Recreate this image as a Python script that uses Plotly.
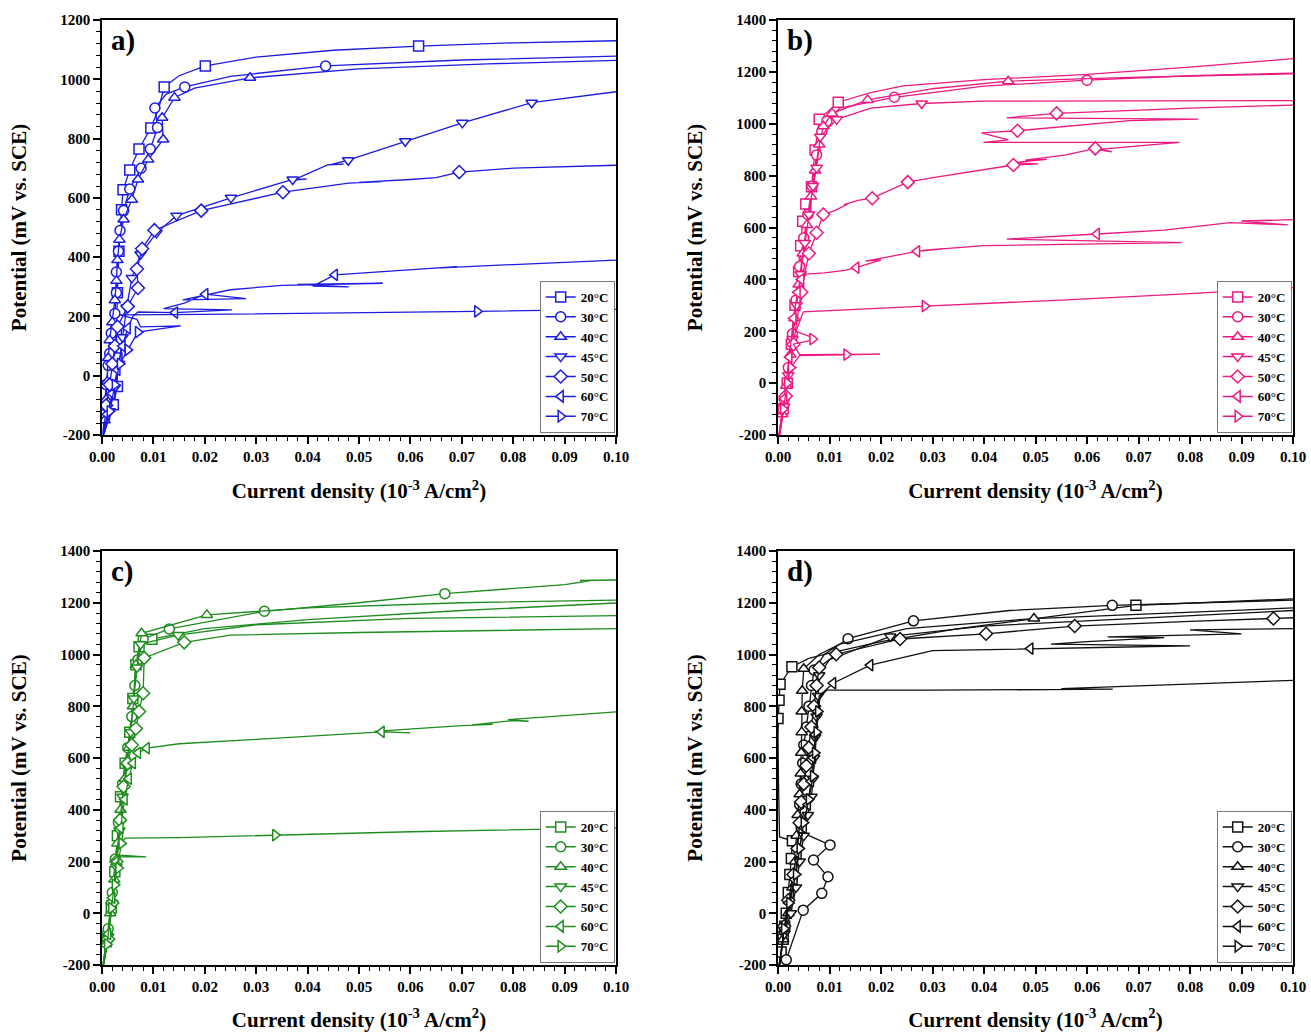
import plotly.graph_objects as go

# ---------------- DATA ----------------
TEMPS = ["20°C", "30°C", "40°C", "45°C", "50°C", "60°C", "70°C"]
SYMBOLS = ["square", "circle", "triangle-up", "triangle-down", "diamond", "triangle-left", "triangle-right"]
PANEL_LABELS = ["a)", "b)", "c)", "d)"]
PANEL_COLORS = ["#1c1ce0", "#ec1a80", "#1f8c1f", "#111111"]
Y_RANGES = [[-200, 1200], [-200, 1400], [-200, 1400], [-200, 1400]]
Y_TICKS_A = [-200, 0, 200, 400, 600, 800, 1000, 1200]
Y_TICKS = [-200, 0, 200, 400, 600, 800, 1000, 1200, 1400]
X_TICKS = [0.0, 0.01, 0.02, 0.03, 0.04, 0.05, 0.06, 0.07, 0.08, 0.09, 0.10]

# ----- panel a -----
A20_LX = [0.0003, 0.0012, 0.0022, 0.0030, 0.0029, 0.0028, 0.0030, 0.0033, 0.0038, 0.0041, 0.0054, 0.0072, 0.0095, 0.0110, 0.0121, 0.0150, 0.0201, 0.030, 0.045, 0.0616, 0.080, 0.100]
A20_LY = [-200, -150, -98, -36, 60, 150, 280, 420, 560, 627, 694, 765, 836, 900, 974, 1012, 1045, 1075, 1098, 1112, 1123, 1130]
A20_MX = [0.0022, 0.0030, 0.0029, 0.0028, 0.0030, 0.0033, 0.0038, 0.0041, 0.0054, 0.0072, 0.0095, 0.0121, 0.0201, 0.0616]
A20_MY = [-98, -36, 60, 150, 280, 420, 560, 627, 694, 765, 836, 974, 1045, 1112]

A30_LX = [0.0002, 0.0005, 0.0008, 0.0012, 0.0015, 0.0018, 0.0025, 0.0028, 0.0028, 0.0032, 0.0035, 0.0042, 0.0054, 0.0076, 0.0094, 0.0108, 0.0103, 0.0125, 0.0161, 0.025, 0.0435, 0.07, 0.1]
A30_LY = [-200, -100, -30, 35, 75, 143, 210, 280, 350, 420, 490, 557, 630, 700, 765, 837, 903, 950, 974, 1010, 1045, 1065, 1078]
A30_MX = [0.0005, 0.0008, 0.0012, 0.0015, 0.0018, 0.0025, 0.0028, 0.0028, 0.0032, 0.0035, 0.0042, 0.0054, 0.0076, 0.0094, 0.0108, 0.0103, 0.0161, 0.0435]
A30_MY = [-100, -30, 35, 75, 143, 210, 280, 350, 420, 490, 557, 630, 700, 765, 837, 903, 974, 1045]

A40_LX = [0.0002, 0.0005, 0.0008, 0.0010, 0.0012, 0.0015, 0.0020, 0.0025, 0.0028, 0.0030, 0.0034, 0.0042, 0.0058, 0.0070, 0.0090, 0.0119, 0.0117, 0.0141, 0.0180, 0.0288, 0.0500, 0.0750, 0.1000]
A40_LY = [-200, -150, -80, -20, 60, 120, 180, 255, 320, 390, 459, 527, 594, 662, 729, 797, 870, 938, 970, 1005, 1035, 1052, 1064]
A40_MX = [0.0005, 0.0008, 0.0010, 0.0012, 0.0015, 0.0020, 0.0025, 0.0028, 0.0030, 0.0034, 0.0042, 0.0058, 0.0070, 0.0090, 0.0119, 0.0117, 0.0141, 0.0288]
A40_MY = [-150, -80, -20, 60, 120, 180, 255, 320, 390, 459, 527, 594, 662, 729, 797, 870, 938, 1005]

A45_LX = [0.0005, 0.0015, 0.0025, 0.0033, 0.0040, 0.0048, 0.0058, 0.0075, 0.0106, 0.0145, 0.0251, 0.0371, 0.0398, 0.0372, 0.0440, 0.0470, 0.0443, 0.0479, 0.059, 0.0701, 0.0836, 0.1]
A45_LY = [-190, -120, -40, 40, 130, 230, 330, 410, 482, 540, 600, 662, 663, 660, 712, 714, 711, 727, 791, 853, 921, 958]
A45_MX = [0.0015, 0.0025, 0.0033, 0.0040, 0.0048, 0.0058, 0.0075, 0.0106, 0.0145, 0.0251, 0.0371, 0.0479, 0.059, 0.0701, 0.0836]
A45_MY = [-120, -40, 40, 130, 230, 330, 410, 482, 540, 600, 662, 727, 791, 853, 921]

A50_LX = [0.0003, 0.0008, 0.0015, 0.0020, 0.0025, 0.0030, 0.0050, 0.0070, 0.0068, 0.0078, 0.0102, 0.0193, 0.0352, 0.0480, 0.0545, 0.0500, 0.0600, 0.0650, 0.0695, 0.0800, 0.1000]
A50_LY = [-200, -100, -30, 40, 100, 165, 234, 296, 360, 428, 491, 557, 619, 650, 655, 652, 662, 668, 687, 700, 710]
A50_MX = [0.0008, 0.0015, 0.0020, 0.0025, 0.0030, 0.0050, 0.0070, 0.0068, 0.0078, 0.0102, 0.0193, 0.0352, 0.0695]
A50_MY = [-100, -30, 40, 100, 165, 234, 296, 360, 428, 491, 557, 619, 687]

A60_LX = [0.0003, 0.0010, 0.0020, 0.0030, 0.0040, 0.0050, 0.0060, 0.0070, 0.0142, 0.0253, 0.0120, 0.0160, 0.0201, 0.0280, 0.0157, 0.0250, 0.0350, 0.0546, 0.0380, 0.0480, 0.0410, 0.0453, 0.0650, 0.0690, 0.0660, 0.0800, 0.1000]
A60_LY = [-200, -130, -60, 20, 100, 160, 200, 215, 213, 222, 226, 245, 275, 260, 256, 290, 305, 312, 308, 300, 302, 340, 364, 368, 364, 375, 390]
A60_MX = [0.0010, 0.0020, 0.0030, 0.0040, 0.0050, 0.0142, 0.0201, 0.0453]
A60_MY = [-130, -60, 20, 100, 160, 213, 275, 340]

A70_LX = [0.0005, 0.0015, 0.0025, 0.0035, 0.0050, 0.0070, 0.0153, 0.0075, 0.0068, 0.0034, 0.0200, 0.0400, 0.0730, 0.1000]
A70_LY = [-190, -120, -31, 40, 87, 147, 168, 165, 190, 205, 207, 210, 217, 224]
A70_MX = [0.0015, 0.0025, 0.0035, 0.0050, 0.0070, 0.0730]
A70_MY = [-120, -31, 40, 87, 147, 217]

# ----- panel b -----
B20_LX = [0.0002, 0.0010, 0.0018, 0.0026, 0.0033, 0.0040, 0.0044, 0.0048, 0.0054, 0.0065, 0.0072, 0.0080, 0.0117, 0.0180, 0.0243, 0.0400, 0.0600, 0.0800, 0.1000]
B20_LY = [-200, -100, 0, 150, 300, 430, 530, 624, 691, 757, 899, 1017, 1083, 1120, 1146, 1170, 1190, 1218, 1251]
B20_MX = [0.0010, 0.0018, 0.0026, 0.0033, 0.0040, 0.0044, 0.0048, 0.0054, 0.0065, 0.0072, 0.0080, 0.0117]
B20_MY = [-100, 0, 150, 300, 430, 530, 624, 691, 757, 899, 1017, 1083]

B30_LX = [0.0002, 0.0012, 0.0020, 0.0028, 0.0035, 0.0042, 0.0050, 0.0058, 0.0066, 0.0075, 0.0085, 0.0095, 0.0120, 0.0226, 0.0400, 0.0600, 0.0800, 0.1000]
B30_LY = [-200, -60, 60, 190, 320, 450, 560, 650, 760, 880, 970, 1010, 1060, 1102, 1145, 1168, 1185, 1195]
B30_MX = [0.0012, 0.0020, 0.0028, 0.0035, 0.0042, 0.0050, 0.0058, 0.0066, 0.0075, 0.0085, 0.0095, 0.0226, 0.0600]
B30_MY = [-60, 60, 190, 320, 450, 560, 650, 760, 880, 970, 1010, 1102, 1168]

B40_LX = [0.0002, 0.0008, 0.0016, 0.0024, 0.0032, 0.0040, 0.0048, 0.0056, 0.0064, 0.0072, 0.0080, 0.0088, 0.0105, 0.0174, 0.0300, 0.0447, 0.0700, 0.1000]
B40_LY = [-200, -120, -10, 110, 250, 380, 500, 610, 720, 820, 920, 990, 1040, 1092, 1135, 1164, 1180, 1192]
B40_MX = [0.0008, 0.0016, 0.0024, 0.0032, 0.0040, 0.0048, 0.0056, 0.0064, 0.0072, 0.0080, 0.0088, 0.0105, 0.0174, 0.0447]
B40_MY = [-120, -10, 110, 250, 380, 500, 610, 720, 820, 920, 990, 1040, 1092, 1164]

B45_LX = [0.0003, 0.0012, 0.0020, 0.0028, 0.0036, 0.0044, 0.0052, 0.0060, 0.0068, 0.0075, 0.0082, 0.0114, 0.0180, 0.0279, 0.0400, 0.1000]
B45_LY = [-200, -90, 30, 170, 300, 420, 540, 650, 760, 830, 950, 1017, 1060, 1078, 1087, 1089]
B45_MX = [0.0012, 0.0020, 0.0028, 0.0036, 0.0044, 0.0052, 0.0060, 0.0068, 0.0075, 0.0082, 0.0114, 0.0279]
B45_MY = [-90, 30, 170, 300, 420, 540, 650, 760, 830, 950, 1017, 1078]

B50_LX = [0.0003, 0.0015, 0.0030, 0.0045, 0.0060, 0.0075, 0.0088, 0.0110, 0.0135, 0.0128, 0.0155, 0.0183, 0.0252, 0.0295, 0.0457, 0.0505, 0.0457, 0.0522, 0.0480, 0.0560, 0.0616, 0.0648, 0.0620, 0.0700, 0.0780, 0.0399, 0.0447, 0.0395, 0.0465, 0.0683, 0.0816, 0.0444, 0.0541, 0.0800, 0.1000]
B50_LY = [-200, -50, 150, 350, 500, 580, 650, 665, 690, 688, 705, 713, 775, 790, 841, 845, 850, 863, 860, 880, 905, 892, 900, 915, 928, 928, 938, 965, 973, 1012, 1018, 1023, 1040, 1060, 1072]
B50_MX = [0.0015, 0.0030, 0.0045, 0.0060, 0.0075, 0.0088, 0.0183, 0.0252, 0.0457, 0.0616, 0.0465, 0.0541]
B50_MY = [-50, 150, 350, 500, 580, 650, 713, 775, 841, 905, 973, 1040]

B60_LX = [0.0003, 0.0012, 0.0022, 0.0030, 0.0038, 0.0045, 0.0055, 0.0090, 0.0130, 0.0152, 0.0200, 0.0170, 0.0250, 0.0270, 0.0320, 0.0280, 0.0400, 0.0784, 0.0444, 0.0619, 0.0750, 0.0878, 0.0990, 0.0900, 0.1000]
B60_LY = [-200, -60, 100, 250, 350, 400, 420, 425, 435, 445, 475, 470, 500, 508, 518, 512, 530, 542, 555, 575, 590, 619, 610, 625, 630]
B60_MX = [0.0012, 0.0022, 0.0030, 0.0038, 0.0045, 0.0152, 0.0270, 0.0619]
B60_MY = [-60, 100, 250, 350, 400, 445, 508, 575]

B70_LX = [0.0003, 0.0010, 0.0018, 0.0025, 0.0043, 0.0198, 0.0043, 0.0030, 0.0075, 0.0035, 0.0049, 0.0285, 0.0520, 0.0550, 0.0800, 0.1000]
B70_LY = [-200, -100, 0, 60, 110, 112, 106, 150, 170, 200, 275, 297, 315, 320, 345, 368]
B70_MX = [0.0010, 0.0018, 0.0025, 0.0133, 0.0067, 0.0285]
B70_MY = [-100, 0, 60, 110, 170, 297]

# ----- panel c -----
C20_LX = [0.0002, 0.0010, 0.0018, 0.0025, 0.0030, 0.0036, 0.0045, 0.0054, 0.0060, 0.0066, 0.0072, 0.0097, 0.0200, 0.0400, 0.0700, 0.1000]
C20_LY = [-200, -90, 20, 160, 300, 450, 580, 700, 830, 960, 1030, 1059, 1100, 1135, 1170, 1199]
C20_MX = [0.0010, 0.0018, 0.0025, 0.0030, 0.0036, 0.0045, 0.0054, 0.0060, 0.0066, 0.0072, 0.0097]
C20_MY = [-90, 20, 160, 300, 450, 580, 700, 830, 960, 1030, 1059]

C30_LX = [0.0002, 0.0012, 0.0020, 0.0026, 0.0032, 0.0040, 0.0050, 0.0058, 0.0064, 0.0070, 0.0080, 0.0131, 0.0316, 0.0500, 0.0667, 0.0900, 0.0950, 0.0930, 0.1000]
C30_LY = [-200, -60, 80, 210, 350, 500, 640, 760, 880, 980, 1060, 1099, 1167, 1200, 1235, 1270, 1285, 1286, 1288]
C30_MX = [0.0012, 0.0020, 0.0026, 0.0032, 0.0040, 0.0050, 0.0058, 0.0064, 0.0070, 0.0080, 0.0131, 0.0316, 0.0667]
C30_MY = [-60, 80, 210, 350, 500, 640, 760, 880, 980, 1060, 1099, 1167, 1235]

C40_LX = [0.0002, 0.0008, 0.0016, 0.0024, 0.0030, 0.0036, 0.0044, 0.0052, 0.0060, 0.0066, 0.0077, 0.0204, 0.0400, 0.0700, 0.1000]
C40_LY = [-200, -120, 0, 130, 270, 400, 520, 640, 800, 960, 1082, 1153, 1180, 1200, 1210]
C40_MX = [0.0008, 0.0016, 0.0024, 0.0030, 0.0036, 0.0044, 0.0052, 0.0060, 0.0066, 0.0077, 0.0204]
C40_MY = [-120, 0, 130, 270, 400, 520, 640, 800, 960, 1082, 1153]

C45_LX = [0.0003, 0.0012, 0.0020, 0.0028, 0.0034, 0.0040, 0.0048, 0.0056, 0.0062, 0.0068, 0.0075, 0.0148, 0.0300, 0.0600, 0.1000]
C45_LY = [-200, -90, 40, 180, 320, 450, 570, 700, 830, 950, 1040, 1075, 1115, 1140, 1150]
C45_MX = [0.0012, 0.0020, 0.0028, 0.0034, 0.0040, 0.0048, 0.0056, 0.0062, 0.0068, 0.0075, 0.0148]
C45_MY = [-90, 40, 180, 320, 450, 570, 700, 830, 950, 1040, 1075]

C50_LX = [0.0003, 0.0012, 0.0020, 0.0028, 0.0035, 0.0042, 0.0050, 0.0058, 0.0066, 0.0072, 0.0080, 0.0082, 0.0160, 0.0250, 0.0500, 0.1000]
C50_LY = [-200, -100, 40, 200, 360, 490, 580, 650, 714, 780, 850, 987, 1047, 1075, 1085, 1100]
C50_MX = [0.0012, 0.0020, 0.0028, 0.0035, 0.0042, 0.0050, 0.0058, 0.0066, 0.0072, 0.0080, 0.0082, 0.0160]
C50_MY = [-100, 40, 200, 360, 490, 580, 650, 714, 780, 850, 987, 1047]

C60_LX = [0.0003, 0.0012, 0.0020, 0.0028, 0.0036, 0.0044, 0.0052, 0.0060, 0.0070, 0.0087, 0.0150, 0.0300, 0.0544, 0.0600, 0.0530, 0.0700, 0.0760, 0.0720, 0.0800, 0.0830, 0.0790, 0.1000]
C60_LY = [-200, -80, 60, 200, 330, 440, 520, 580, 620, 638, 655, 672, 701, 697, 703, 725, 730, 728, 745, 742, 748, 778]
C60_MX = [0.0012, 0.0020, 0.0028, 0.0036, 0.0044, 0.0052, 0.0060, 0.0070, 0.0087, 0.0544]
C60_MY = [-80, 60, 200, 330, 440, 520, 580, 620, 638, 701]

C70_LX = [0.0003, 0.0010, 0.0018, 0.0025, 0.0032, 0.0086, 0.0034, 0.0038, 0.0045, 0.0150, 0.0337, 0.0600, 0.1000]
C70_LY = [-200, -120, 20, 110, 218, 218, 225, 270, 290, 292, 302, 315, 330]
C70_MX = [0.0010, 0.0018, 0.0025, 0.0032, 0.0038, 0.0337]
C70_MY = [-120, 20, 110, 175, 270, 302]

# ----- panel d -----
D20_LX = [0.0002, 0.0006, 0.0010, 0.0013, 0.0016, 0.0020, 0.0023, 0.0026, 0.0028, 0.0003, 0.0001, 0.0000, 0.0002, 0.0004, 0.0027, 0.0060, 0.0100, 0.0200, 0.0350, 0.0695, 0.1000]
D20_LY = [-200, -150, -100, -50, 0, 80, 150, 212, 280, 295, 500, 690, 823, 885, 953, 985, 1005, 1050, 1100, 1190, 1215]
D20_MX = [0.0006, 0.0010, 0.0013, 0.0016, 0.0020, 0.0023, 0.0026, 0.0028, 0.0000, 0.0002, 0.0004, 0.0027, 0.0695]
D20_MY = [-150, -100, -50, 0, 80, 150, 212, 280, 753, 823, 885, 953, 1190]

D30_LX = [0.0016, 0.0030, 0.0049, 0.0085, 0.0097, 0.0069, 0.0101, 0.0060, 0.0045, 0.0042, 0.0045, 0.0048, 0.0050, 0.0055, 0.0060, 0.0065, 0.0070, 0.0090, 0.0136, 0.0263, 0.0450, 0.0649, 0.1000]
D30_LY = [-180, -100, 12, 77, 141, 206, 264, 300, 330, 420, 500, 580, 650, 720, 800, 880, 940, 1000, 1061, 1130, 1170, 1190, 1210]
D30_MX = [0.0016, 0.0049, 0.0085, 0.0097, 0.0069, 0.0101, 0.0045, 0.0042, 0.0045, 0.0048, 0.0050, 0.0055, 0.0060, 0.0065, 0.0070, 0.0136, 0.0263, 0.0649]
D30_MY = [-180, 12, 77, 141, 206, 264, 330, 420, 500, 580, 650, 720, 800, 880, 940, 1061, 1130, 1190]

D40_LX = [0.0002, 0.0010, 0.0020, 0.0028, 0.0033, 0.0036, 0.0038, 0.0042, 0.0044, 0.0045, 0.0046, 0.0046, 0.0047, 0.0050, 0.0080, 0.0120, 0.0250, 0.0497, 0.0750, 0.1000]
D40_LY = [-200, -100, 0, 100, 200, 300, 380, 460, 540, 620, 700, 780, 860, 945, 1000, 1040, 1100, 1139, 1160, 1180]
D40_MX = [0.0010, 0.0020, 0.0028, 0.0033, 0.0036, 0.0038, 0.0042, 0.0044, 0.0045, 0.0046, 0.0046, 0.0047, 0.0050, 0.0497]
D40_MY = [-100, 0, 100, 200, 300, 380, 460, 540, 620, 700, 780, 860, 945, 1139]

D45_LX = [0.0003, 0.0012, 0.0025, 0.0035, 0.0042, 0.0050, 0.0058, 0.0065, 0.0068, 0.0070, 0.0072, 0.0075, 0.0078, 0.0080, 0.0100, 0.0218, 0.0400, 0.0700, 0.1000]
D45_LY = [-200, -80, 0, 100, 200, 300, 380, 450, 520, 600, 680, 760, 840, 920, 980, 1070, 1110, 1140, 1170]
D45_MX = [0.0012, 0.0025, 0.0035, 0.0042, 0.0050, 0.0058, 0.0065, 0.0068, 0.0070, 0.0072, 0.0075, 0.0078, 0.0080, 0.0218]
D45_MY = [-80, 0, 100, 200, 300, 380, 450, 520, 600, 680, 760, 840, 920, 1070]

D50_LX = [0.0003, 0.0012, 0.0020, 0.0030, 0.0038, 0.0042, 0.0045, 0.0050, 0.0055, 0.0060, 0.0065, 0.0070, 0.0075, 0.0080, 0.0113, 0.0237, 0.0404, 0.0576, 0.0800, 0.0962, 0.1000]
D50_LY = [-200, -50, 50, 150, 250, 350, 430, 500, 570, 640, 720, 800, 880, 950, 1001, 1060, 1080, 1110, 1128, 1139, 1142]
D50_MX = [0.0012, 0.0020, 0.0030, 0.0038, 0.0042, 0.0045, 0.0050, 0.0055, 0.0060, 0.0065, 0.0070, 0.0075, 0.0080, 0.0113, 0.0237, 0.0404, 0.0576, 0.0962]
D50_MY = [-50, 50, 150, 250, 350, 430, 500, 570, 640, 720, 800, 880, 950, 1001, 1060, 1080, 1110, 1139]

D60_LX = [0.0003, 0.0012, 0.0020, 0.0032, 0.0040, 0.0050, 0.0058, 0.0064, 0.0068, 0.0072, 0.0076, 0.0080, 0.0107, 0.0179, 0.0300, 0.0490, 0.0650, 0.0800, 0.0530, 0.0600, 0.0750, 0.0640, 0.0900, 0.0800, 0.1000]
D60_LY = [-200, -60, 40, 130, 230, 330, 420, 510, 600, 690, 780, 840, 889, 959, 1015, 1023, 1028, 1033, 1040, 1050, 1065, 1068, 1080, 1095, 1100]
D60_MX = [0.0012, 0.0020, 0.0032, 0.0040, 0.0050, 0.0058, 0.0064, 0.0068, 0.0072, 0.0076, 0.0107, 0.0179, 0.0490]
D60_MY = [-60, 40, 130, 230, 330, 420, 510, 600, 690, 780, 889, 959, 1023]

D70_LX = [0.0003, 0.0012, 0.0022, 0.0035, 0.0042, 0.0050, 0.0060, 0.0068, 0.0072, 0.0075, 0.0078, 0.0082, 0.0095, 0.0300, 0.0550, 0.0650, 0.0550, 0.0800, 0.1000]
D70_LY = [-200, -60, 40, 150, 250, 350, 440, 530, 620, 700, 780, 840, 862, 862, 865, 866, 868, 885, 900]
D70_MX = [0.0012, 0.0022, 0.0035, 0.0042, 0.0050, 0.0060, 0.0068, 0.0072, 0.0075, 0.0078]
D70_MY = [-60, 40, 150, 250, 350, 440, 530, 620, 700, 780]

PANELS = [
    [(A20_LX, A20_LY, A20_MX, A20_MY), (A30_LX, A30_LY, A30_MX, A30_MY), (A40_LX, A40_LY, A40_MX, A40_MY),
     (A45_LX, A45_LY, A45_MX, A45_MY), (A50_LX, A50_LY, A50_MX, A50_MY), (A60_LX, A60_LY, A60_MX, A60_MY),
     (A70_LX, A70_LY, A70_MX, A70_MY)],
    [(B20_LX, B20_LY, B20_MX, B20_MY), (B30_LX, B30_LY, B30_MX, B30_MY), (B40_LX, B40_LY, B40_MX, B40_MY),
     (B45_LX, B45_LY, B45_MX, B45_MY), (B50_LX, B50_LY, B50_MX, B50_MY), (B60_LX, B60_LY, B60_MX, B60_MY),
     (B70_LX, B70_LY, B70_MX, B70_MY)],
    [(C20_LX, C20_LY, C20_MX, C20_MY), (C30_LX, C30_LY, C30_MX, C30_MY), (C40_LX, C40_LY, C40_MX, C40_MY),
     (C45_LX, C45_LY, C45_MX, C45_MY), (C50_LX, C50_LY, C50_MX, C50_MY), (C60_LX, C60_LY, C60_MX, C60_MY),
     (C70_LX, C70_LY, C70_MX, C70_MY)],
    [(D20_LX, D20_LY, D20_MX, D20_MY), (D30_LX, D30_LY, D30_MX, D30_MY), (D40_LX, D40_LY, D40_MX, D40_MY),
     (D45_LX, D45_LY, D45_MX, D45_MY), (D50_LX, D50_LY, D50_MX, D50_MY), (D60_LX, D60_LY, D60_MX, D60_MY),
     (D70_LX, D70_LY, D70_MX, D70_MY)],
]

# ---------------- LAYOUT ----------------
W, H = 1311, 1032
FONT = "Liberation Serif"
# pixel boxes of the four plot areas: (left, right, top, bottom)
BOXES = [(102, 616, 20, 435), (778, 1293, 20, 435), (102, 616, 551, 965), (778, 1293, 551, 965)]

fig = go.Figure()
layout = dict(
    width=W, height=H, margin=dict(l=0, r=0, t=0, b=0),
    paper_bgcolor="white", plot_bgcolor="white", showlegend=True,
    font=dict(family=FONT, color="black"),
    annotations=[],
)

for p, series in enumerate(PANELS):
    l, r, t, b = BOXES[p]
    suffix = "" if p == 0 else str(p + 1)
    xa, ya = "x" + suffix, "y" + suffix
    legname = "legend" + suffix
    color = PANEL_COLORS[p]
    for k, (lx, ly, mx, my) in enumerate(series):
        fig.add_trace(go.Scatter(x=lx, y=ly, mode="lines", xaxis=xa, yaxis=ya,
                                 line=dict(color=color, width=1.3), showlegend=False,
                                 legendgroup=f"{p}-{k}", hoverinfo="skip"))
        fig.add_trace(go.Scatter(x=mx, y=my, mode="markers", xaxis=xa, yaxis=ya,
                                 marker=dict(symbol=SYMBOLS[k], size=10, color="white",
                                             line=dict(color=color, width=1.5)),
                                 showlegend=False, legendgroup=f"{p}-{k}", hoverinfo="skip"))
    for k in range(len(series)):
        fig.add_trace(go.Scatter(x=[None], y=[None], mode="lines+markers", xaxis=xa, yaxis=ya,
                                 name=TEMPS[k], legend=legname, legendgroup=f"{p}-{k}",
                                 line=dict(color=color, width=1.5),
                                 marker=dict(symbol=SYMBOLS[k], size=10, color="white",
                                             line=dict(color=color, width=1.5))))

    yt = Y_TICKS_A if p == 0 else Y_TICKS
    axis_common = dict(showline=True, linecolor="black", linewidth=1.6, mirror=True,
                       ticks="outside", ticklen=7, tickwidth=1.5, tickcolor="black",
                       showgrid=False, zeroline=False, automargin=False,
                       tickfont=dict(family=FONT, size=15, color="black", weight="bold"))
    layout["xaxis" + suffix] = dict(
        axis_common, domain=[l / W, r / W], anchor=ya, range=[0, 0.1],
        tickvals=X_TICKS, ticktext=[f"{v:.2f}" for v in X_TICKS],
        minor=dict(dtick=0.002, ticklen=4, tickwidth=1.2, ticks="outside", tickcolor="black"),
        title=dict(text="Current density (10<sup>-3</sup> A/cm<sup>2</sup>)", standoff=20,
                   font=dict(family=FONT, size=21, color="black", weight="bold")))
    layout["yaxis" + suffix] = dict(
        axis_common, domain=[1 - b / H, 1 - t / H], anchor=xa, range=Y_RANGES[p],
        tickvals=yt, ticktext=[str(v) for v in yt],
        minor=dict(dtick=40, ticklen=4, tickwidth=1.2, ticks="outside", tickcolor="black"),
        title=dict(text="Potential (mV vs. SCE)", standoff=28,
                   font=dict(family=FONT, size=21, color="black", weight="bold")))
    layout[legname] = dict(
        x=r / W - 0.001, y=1 - b / H + 0.002, xanchor="right", yanchor="bottom",
        bgcolor="white", bordercolor="#777", borderwidth=1, tracegroupgap=0,
        font=dict(family=FONT, size=13, color="black", weight="bold"))
    layout["annotations"].append(dict(
        text=PANEL_LABELS[p], xref="paper", yref="paper", x=(l + 7) / W, y=1 - (t + 2) / H,
        xanchor="left", yanchor="top", showarrow=False,
        font=dict(family=FONT, size=29, color="black", weight="bold")))

fig.update_layout(**layout)
fig.write_html("out.html")
